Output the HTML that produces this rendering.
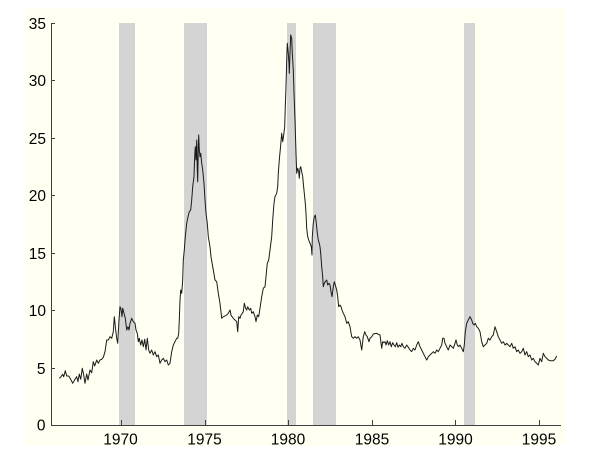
<!DOCTYPE html>
<html><head><meta charset="utf-8"><style>
html,body{margin:0;padding:0;background:#fff;}
svg{display:block;}
text{font-family:"Liberation Sans",Arial,sans-serif;font-size:15.5px;fill:#000;}
</style></head><body>
<svg width="600" height="462" viewBox="0 0 600 462" xmlns="http://www.w3.org/2000/svg">
<rect x="25" y="8" width="541" height="438" fill="#fffff2"/>
<g fill="#d4d4d4">
<rect x="119" y="23" width="16" height="402"/>
<rect x="184" y="23" width="23" height="402"/>
<rect x="287" y="23" width="9" height="402"/>
<rect x="313" y="23" width="23" height="402"/>
<rect x="464" y="23" width="11" height="402"/>
</g>
<polyline fill="none" stroke="#1a1a1a" stroke-width="1" stroke-linejoin="round" points="
59.3,378.3 61,376.7 62.7,374.3 63.7,376.7 65.3,370.7 66.7,376 68.7,376 70.7,379.3 72.7,383.3 75,379.3 76.7,376.7 78,381.7 79.3,374 80.7,379.3 82.3,368.3 83.7,375 85,383.3 86.7,374 88,380 90,370 91.7,372.7 93.3,361.7 94.7,366 96.7,360 98.3,363.3 100,360 101.7,359.3 103.3,357.3 105,351.7 106.7,340 108.3,340 110,336.7 111.7,338.3 113.3,331.7 114.3,316.7 115.7,330 116.7,338.3 117.7,343.3 119,320 120,306.7 121,309.3 122,316.7 122.7,308.3 124,313.3 125.3,318.3 126.7,330 128,326.7 129,330 130,323.3 131.7,318.3 133.3,321.7 135,323.3 136,330 137.3,333.3 138.3,341.7 139.3,338.3 140.7,345 142,340 143.3,346.7 144.7,339.3 146,350 147.3,338.3 148.7,350 150,353.3 151.7,350 153.3,355 155,351.7 156.7,356.7 158.3,355 160,363.3 161.7,360 163.3,358.3 165,361.7 166.7,360 168.3,365 170,363.3 171.7,351.7 173.3,345 175,341.7 176.7,338.3
177.7,338.3 178.7,333.3 179.3,320 180,300 180.7,290 181.7,293.3 182.7,280 183.3,260 184.3,250 185.3,236.7 186.7,223.3 188,216.7 189.3,211.7 190.7,210 191.7,200 192.7,186.7 194,176.7 194.7,156.7 195.3,146.7 196,160 196.7,140 197.3,170 197.7,181.7 198.3,146.7 198.7,135 199.3,150 200,156.7 200.7,153.3 201.7,163.3 202.7,170 204,183.3 205,200 206,213.3 207.3,223.3 208.3,236.7 210,246.7 211,256.7
213.3,270 215,280 216.7,281.7 218.3,293.3 220,303.3 221.7,318.3 223.3,316.7 225,316 226.7,315 228.3,313.3 230,310 231,315 232,316.7 233.3,318.3 235,320 236.7,321.7 237.7,331.7 238.7,316.7 240,318.3 241,315 242.3,313.3 243.3,311.7 244.3,303.3 245.7,308.3 246.7,310 247.7,306.7 249.3,310 250.7,308.3 251.7,313.3 253.3,311.7 255,316.7 256,321.7 257.3,315 258.7,316.7 260,308.3 261.7,296.7 263.3,288.3 265,286.7 266,276.7 267.3,263.3 268.7,260 270,250
271.7,236.7 272.7,220 274,203.3 275,196.7 276.7,193.3 277.7,186.7 278.3,173.3 279.3,160 280.7,145 281.7,133.3 282.7,141.7 283.7,135 284.7,126.7 285.3,106.7 286,86.7 286.7,60 287.3,43.3 288.3,53.3 289,63.3 289.3,73.3 290,53.3 290.7,35 291.7,38.3 292.3,53.3 293.3,70 294,93.3 295,120 296,153.3 296.7,173.3 297.7,168.3 298.7,171.7 299.3,178.3 300,168.3 300.7,166.7 301.7,171.7 302.7,176.7 303.3,183.3 304.3,193.3 305.3,203.3 306,213.3 306.7,228.3 307.7,236.7 308.7,240 310,243.3 311.3,246.7 312,255 312.3,236.7 313.3,223.3 314.3,216.7 315.3,215 316.3,223.3 317.3,233.3 318.3,240 319.3,243.3 320,246.7 320.7,253.3 321.7,266.7 322.7,276.7 323.3,286.7 324.3,283.3 325.3,281.7 326.7,280 327.7,285 329,283.3 330,285 331,291.7 332,296.7 333.3,286.7 334.3,281.7 335.3,285 336.7,290 337.7,296.7 338.7,306.7 340,305 341,306.7 342,310 343.3,313.3
345,316.7 346.7,323.3 348.3,321.7 350,326.7 351.7,336.7 353.3,338.3 355,336.7 356.7,338.3 358.3,336.7 360,340 361.7,350 363.3,336.7 364.7,331.7 366,335 367.3,336.7 369,341.7 370,338.3 371.7,336.7 373.3,334 376.7,333.3 378.3,334.3 380,335 381.7,348.3 382.7,341.7 384,342.7 385,341.7 386,345 387.3,340.7 388.7,345 390,341.7 391.3,346.7 392.7,342.7 394,345 395.3,346.7 396.7,342.7 398,347.3 399.3,345 400.7,346.7 402,343.3 403.3,346.7 405,348.3 406.7,345 408.3,347.3 410,350 411.7,351.7 413.3,348.3 415,350 416.7,345 418.3,341.7 420,346.7 421.7,350 423.3,353.3 425,356.7 426.7,360 428.3,356.7 430,355 431.7,353.3 433.3,351.7 435,353.3 436.7,350 438.3,351.7 440,348.3 441.7,345 442.7,338.3 444,338.3 445,343.3 446.7,346.7 448.3,350 450,345 451.7,346.7 453.3,348.3 455,343.3 456,340 457.3,345 458.7,346.7 460,345 461.7,348.3 463.3,351.7 464.3,345 465.3,331.7 466.7,323.3 468.3,320 470,316.7 471.7,320 472.7,323.3 474,325 475.3,323.3 476.7,326.7 478.3,328.3 480,331.7 481.7,341.7 483.3,346.7 485,345 486.7,343.3 488.3,338.3 490,340 491.7,336.7 493.3,335 495,326.7 496.7,331.7 498.3,336.7 500,340 501.7,343.3 503.3,341.7 505,345 506.7,343.3 508.3,345 510,346.7 511.7,343.3 513.3,348.3 515,346.7 516.7,351.7 518.3,350 520,353.3 521.7,351.7 523.3,348.3 525,355 526.7,351.7 528.3,356.7 530,355 531.7,360 533.3,358.3 535,361.7 536.7,363.3 538.3,365 540,358.3 541.7,361.7 543.3,353.3 545,356.7 546.7,358.3 548.3,360 550,360.7 551.7,360.7 553.3,360.7 555,359.3 556.7,356"/>
<g stroke="#404040" stroke-width="1" fill="none">
<line x1="51.5" y1="23" x2="51.5" y2="425.5"/>
<line x1="51" y1="425.5" x2="561" y2="425.5"/>
<line x1="51" y1="23.5" x2="55" y2="23.5"/>
<line x1="51" y1="80.5" x2="55" y2="80.5"/>
<line x1="51" y1="138.5" x2="55" y2="138.5"/>
<line x1="51" y1="195.5" x2="55" y2="195.5"/>
<line x1="51" y1="253.5" x2="55" y2="253.5"/>
<line x1="51" y1="310.5" x2="55" y2="310.5"/>
<line x1="51" y1="368.5" x2="55" y2="368.5"/>
<line x1="121.5" y1="425" x2="121.5" y2="420"/>
<line x1="205.5" y1="425" x2="205.5" y2="420"/>
<line x1="288.5" y1="425" x2="288.5" y2="420"/>
<line x1="372.5" y1="425" x2="372.5" y2="420"/>
<line x1="455.5" y1="425" x2="455.5" y2="420"/>
<line x1="539.5" y1="425" x2="539.5" y2="420"/>
</g>
<g text-anchor="end">
<text x="46" y="29">35</text>
<text x="46" y="86">30</text>
<text x="46" y="144">25</text>
<text x="46" y="201">20</text>
<text x="46" y="259">15</text>
<text x="46" y="316">10</text>
<text x="45.5" y="374">5</text>
<text x="45.5" y="430.5">0</text>
</g>
<g text-anchor="middle">
<text x="120.5" y="444.5">1970</text>
<text x="204.5" y="444.5">1975</text>
<text x="288" y="444.5">1980</text>
<text x="372" y="444.5">1985</text>
<text x="455.5" y="444.5">1990</text>
<text x="539" y="444.5">1995</text>
</g>
</svg>
</body></html>
